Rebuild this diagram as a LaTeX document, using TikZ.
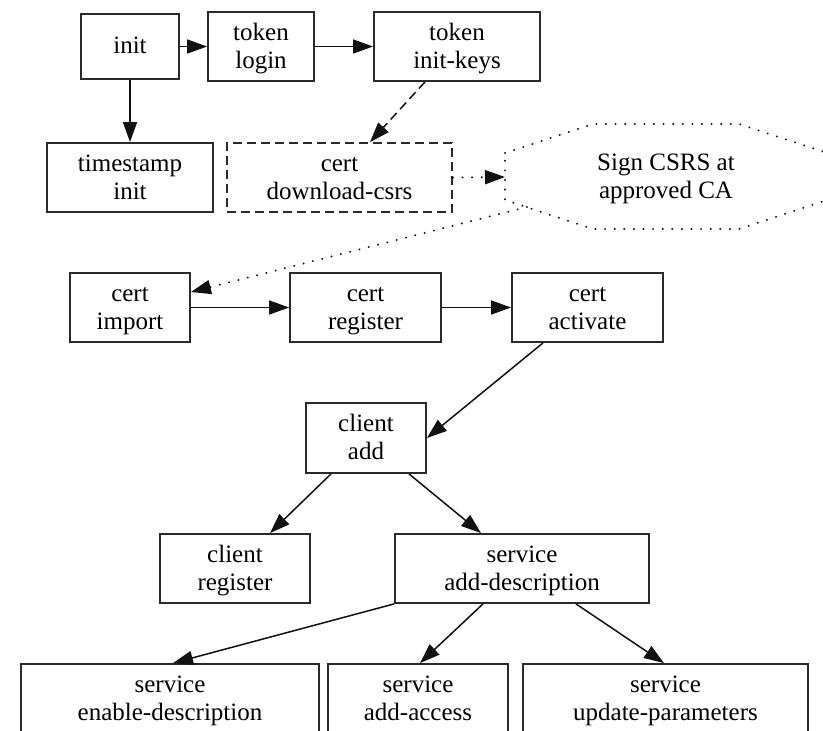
\documentclass[tikz,border=0pt]{standalone}
\usepackage{fontspec}
\setmainfont{Liberation Serif}
\usetikzlibrary{arrows.meta}
\definecolor{edgecol}{HTML}{111111}
\definecolor{boxcol}{HTML}{2A2A2A}
% two stacked lines with fixed baselines, and a single line
\newcommand\twol[2]{\rule{0pt}{23pt}#1\\#2\rule[-8pt]{0pt}{8pt}}
\newcommand\onel[1]{\rule[-8pt]{0pt}{29pt}#1}
\begin{document}
\begin{tikzpicture}[x=1pt,y=-1pt,
  every node/.style={font=\fontsize{25}{28}\selectfont, text=black, align=center, inner sep=0pt},
  box/.style={draw=boxcol, line width=1.8pt, rectangle, minimum height=69pt},
  dashbox/.style={box, dash pattern=on 9pt off 5pt},
  flow/.style={draw=edgecol, line width=1.5pt, -{Triangle[length=20pt,width=14pt]}},
  dashflow/.style={flow, dash pattern=on 9pt off 5pt},
  dotflow/.style={flow, line cap=round, line width=2.1pt, dash pattern=on 0.1pt off 9.5pt},
  dotline/.style={draw=edgecol, line width=2.1pt, line cap=round, dash pattern=on 0.1pt off 9.5pt}]
\useasboundingbox (0,0) rectangle (823,731);
\clip (0,0) rectangle (823,731);

% first stage: initialisation and keys
\node[box, minimum width=98pt, minimum height=65pt] (init) at (130,46.5) {\onel{init}};
\node[box, minimum width=106pt] (login) at (261,46.5) {\twol{token}{login}};
\node[box, minimum width=166pt] (keys) at (457,46.5) {\twol{token}{init-keys}};
\node[box, minimum width=166pt] (stamp) at (130,177.5) {\twol{timestamp}{init}};
\node[dashbox, minimum width=225pt] (csrs) at (339.5,177.5) {\twol{cert}{download-csrs}};

% external step: signing at the CA
\node (ca) at (666,176.5) {\twol{Sign CSRS at}{approved CA}};
\coordinate (caW) at (505,177);
\coordinate (caSW) at (527,207);
\draw[dotline] (505,153) -- (593,124) -- (739,124) -- (827,153) -- (827,200)
  -- (739,229) -- (593,229) -- (505,200) -- cycle;

% certificate handling
\node[box, minimum width=120pt] (import) at (130,307.5) {\twol{cert}{import}};
\node[box, minimum width=151pt] (register) at (365.5,307.5) {\twol{cert}{register}};
\node[box, minimum width=151pt] (activate) at (587.5,307.5) {\twol{cert}{activate}};

% client and services
\node[box, minimum width=120pt, minimum height=70pt] (cadd) at (366,438) {\twol{client}{add}};
\node[box, minimum width=150pt] (creg) at (235,568.5) {\twol{client}{register}};
\node[box, minimum width=254pt] (sdesc) at (522,568.5) {\twol{service}{add-description}};
\node[box, minimum width=298pt] (senable) at (170,698.5) {\twol{service}{enable-description}};
\node[box, minimum width=180pt] (saccess) at (418,698.5) {\twol{service}{add-access}};
\node[box, minimum width=285pt] (supdate) at (665.5,698.5) {\twol{service}{update-parameters}};

% connectors
\draw[flow] (init.east) -- (login.west);
\draw[flow] (login.east) -- (keys.west);
\draw[flow] (init.south) -- (stamp.north);
\draw[dashflow] ([xshift=-32pt]keys.south) -- ([xshift=30.5pt]csrs.north);
\draw[dotflow] (csrs.east) -- (caW);
\draw[dotflow] (caSW) -- ([yshift=15.5pt]import.east);
\draw[flow] (import.east) -- (register.west);
\draw[flow] (register.east) -- (activate.west);
\draw[flow] ([xshift=-44.5pt]activate.south) -- (cadd.east);
\draw[flow] ([xshift=-35pt]cadd.south) -- ([xshift=35pt]creg.north);
\draw[flow] ([xshift=43pt]cadd.south) -- ([xshift=-41pt]sdesc.north);
\draw[flow] (sdesc.south west) -- ([xshift=3pt]senable.north);
\draw[flow] ([xshift=-39pt]sdesc.south) -- ([xshift=2pt]saccess.north);
\draw[flow] ([xshift=54pt]sdesc.south) -- ([xshift=-1.5pt]supdate.north);
\end{tikzpicture}
\end{document}
